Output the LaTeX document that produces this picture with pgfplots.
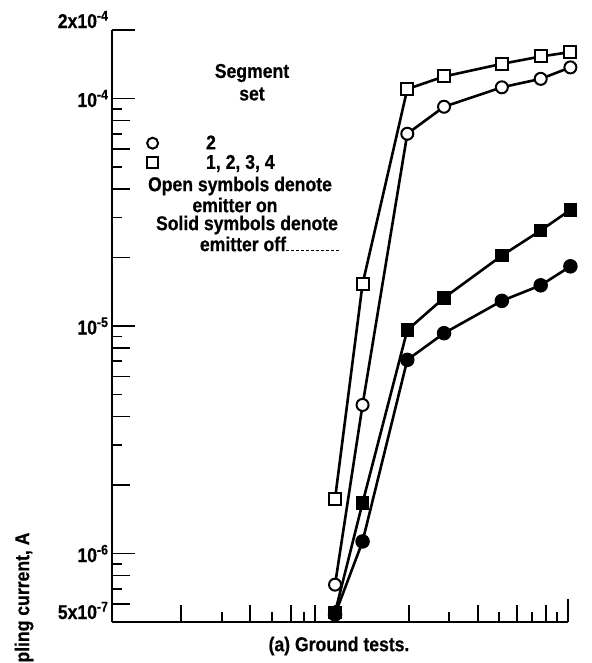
\documentclass[border=0pt]{standalone}
\usepackage{pgfplots}
\pgfplotsset{compat=1.18}
\usepackage{fontspec}
\setmainfont{Liberation Sans}[FakeStretch=0.88, FakeBold=0.5]

\newcommand{\lab}{\fontsize{20}{22}\selectfont\bfseries}

\begin{document}
\begin{tikzpicture}[font=\lab]
\useasboundingbox (0pt,0pt) rectangle (591pt,-663pt);
\begin{axis}[
at={(112pt,-622pt)}, anchor=south west,
scale only axis, width=456pt, height=592pt,
xmode=log, ymode=log,
xmin=1.413, xmax=1000,
ymin=5e-7, ymax=2e-4,
axis x line=bottom, axis y line=left,
axis line style={-, line width=2.2pt},
tick align=inside,
tick style={black, line width=1.8pt},
major tick length=23pt,
minor tick length=10pt,
xtick={1000}, xticklabels={},
minor xtick={6.88,14.13,22.39,180.3,370.7,595.7,853.4},
extra x ticks={3.81,10.29,18.57,26.23,34.97,101.4,273.8,479.9,728.5},
extra x tick labels={},
extra x tick style={major tick length=17pt},
ytick={5e-7,1e-6,1e-5,1e-4,2e-4},
yticklabels={\raisebox{3pt}[0pt][0pt]{5x10\textsuperscript{-7}},
  10\textsuperscript{-6}, 10\textsuperscript{-5}, 10\textsuperscript{-4},
  \raisebox{2pt}[0pt][0pt]{2x10\textsuperscript{-4}}},
minor ytick={7e-7,9e-7,3e-6,5e-6,7e-6,9e-6,3e-5,5e-5,7e-5,9e-5},
extra y ticks={6e-7,8e-7,2e-6,4e-6,6e-6,8e-6,2e-5,4e-5,6e-5,8e-5},
extra y tick labels={},
extra y tick style={major tick length=18pt},
ticklabel style={font=\lab},
clip=false,
legend style={at={(0.07,0.829)}, anchor=north west, draw=none, fill=none,
  font=\lab, row sep=0pt,
  /tikz/every odd column/.append style={column sep=46pt}},
legend cell align=left,
legend image code/.code={\draw[only marks] plot coordinates {(0pt,0pt)};},
]
\addlegendimage{only marks, mark=o, mark size=5.5pt, mark options={line width=2pt}}
\addlegendentry{2}
\addlegendimage{only marks, mark=square, mark size=5.5pt, mark options={line width=2pt}}
\addlegendentry{1, 2, 3, 4}

% filled squares: segments 1,2,3,4, emitter off
\addplot[forget plot, black, line width=2.6pt, mark=square*, mark size=6pt,
  mark options={fill=black, line width=1.5pt}] coordinates {
(35,5.5e-7) (52,1.67e-6) (99,9.6e-6) (168,1.33e-5) (386,2.04e-5) (675,2.63e-5) (1035,3.24e-5)
};
% filled circles: segment 2, emitter off
\addplot[forget plot, black, line width=2.6pt, mark=*, mark size=6.5pt,
  mark options={fill=black, line width=1.5pt}] coordinates {
(35,5.4e-7) (52,1.13e-6) (99,7.1e-6) (168,9.3e-6) (386,1.29e-5) (675,1.51e-5) (1035,1.83e-5)
};
% open circles: segment 2, emitter on
\addplot[forget plot, black, line width=2.6pt, mark=*, mark size=6pt,
  mark options={fill=white, line width=2pt}] coordinates {
(35,7.3e-7) (52,4.5e-6) (99,7.0e-5) (168,9.2e-5) (386,1.12e-4) (675,1.22e-4) (1035,1.37e-4)
};
% open squares: segments 1,2,3,4, emitter on
\addplot[forget plot, black, line width=2.6pt, mark=square*, mark size=6pt,
  mark options={fill=white, line width=2pt}] coordinates {
(35,1.74e-6) (52,1.53e-5) (99,1.10e-4) (168,1.25e-4) (386,1.42e-4) (675,1.53e-4) (1035,1.60e-4)
};
\end{axis}

\node at (252pt,-73pt) {Segment};
\node at (252pt,-94pt) {set};
\node at (240pt,-186pt) {Open symbols denote};
\node at (235pt,-205pt) {emitter on};
\node at (247pt,-225pt) {Solid symbols denote};
\node at (243pt,-244pt) {emitter off};
\draw[densely dashed, line width=0.8pt] (286pt,-250pt) -- (340pt,-250pt);
\node at (339pt,-646pt) {(a) Ground tests.};
\node[rotate=90, anchor=east] at (24pt,-529pt) {Coupling current, A};
\end{tikzpicture}
\end{document}
